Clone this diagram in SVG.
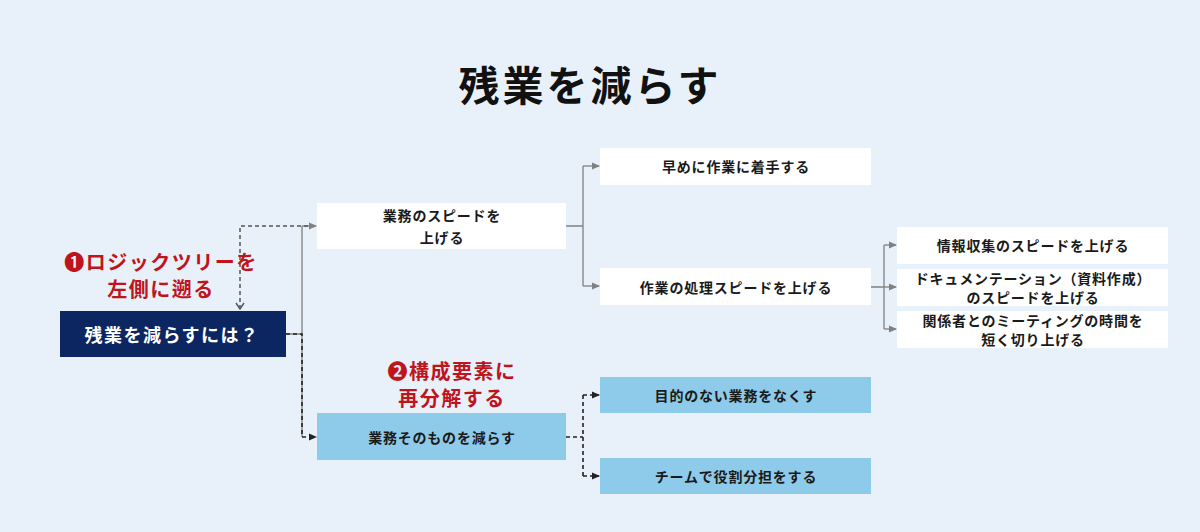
<svg xmlns="http://www.w3.org/2000/svg" width="1200" height="532" viewBox="0 0 1200 532">
<defs>
<marker id="ag" markerWidth="8" markerHeight="8" refX="7" refY="4" orient="auto" markerUnits="userSpaceOnUse"><path d="M0,0.5 L8,4 L0,7.5 Z" fill="#808080"/></marker>
<marker id="ak" markerWidth="8" markerHeight="8" refX="7" refY="4" orient="auto" markerUnits="userSpaceOnUse"><path d="M0,0.5 L8,4 L0,7.5 Z" fill="#222"/></marker>
<marker id="ad" markerWidth="10" markerHeight="10" refX="5" refY="8" orient="0" markerUnits="userSpaceOnUse"><path d="M1,2 L5,8 L9,2" fill="none" stroke="#555" stroke-width="1.5"/></marker>
</defs>
<style>
text{font-family:"Noto Sans CJK JP","Noto Sans",sans-serif;font-weight:700;text-anchor:middle;dominant-baseline:central}
.t{font-size:14px;fill:#1a1a1a;letter-spacing:0.8px}
.w{fill:#ffffff}
.b{fill:#8ecbea}
.g{fill:none;stroke:#808080;stroke-width:1.3}
.d{fill:none;stroke:#222;stroke-width:1.6;stroke-dasharray:4 3}
.dg{fill:none;stroke:#555;stroke-width:1.5;stroke-dasharray:4 3}
.red{font-size:20px;fill:#c0141c;letter-spacing:1.5px}
</style>
<rect width="1200" height="532" fill="#e8f0fa"/>
<text x="590" y="83" style="font-size:41px;fill:#111;letter-spacing:3px">残業を減らす</text>

<g id="connectors">
<path class="g" d="M286,334 H302 M302,226 V437"/>
<path class="g" d="M302,226 H316" marker-end="url(#ag)"/>
<path class="g" d="M566,226 H583 M583,166 V286"/>
<path class="g" d="M583,166 H599" marker-end="url(#ag)"/>
<path class="g" d="M583,286 H599" marker-end="url(#ag)"/>
<path class="g" d="M871,287 H884 M884,245 V329"/>
<path class="g" d="M884,245 H896" marker-end="url(#ag)"/>
<path class="g" d="M884,287 H896" marker-end="url(#ag)"/>
<path class="g" d="M884,329 H896" marker-end="url(#ag)"/>
<path class="d" d="M286,334 H302 V437 H316" marker-end="url(#ak)"/>
<path class="dg" d="M308,226 H240 V309" marker-end="url(#ad)"/>
<path class="d" d="M566,437 H583 M583,395 V476"/>
<path class="d" d="M583,395 H599" marker-end="url(#ak)"/>
<path class="d" d="M583,476 H599" marker-end="url(#ak)"/>
</g>

<g id="annotation1">
<text class="red" x="161" y="261">❶ロジックツリーを</text>
<text class="red" x="161" y="288">左側に遡る</text>
</g>
<g id="annotation2">
<text class="red" x="452" y="370">❷構成要素に</text>
<text class="red" x="452" y="397">再分解する</text>
</g>

<g id="root">
<rect x="60" y="311" width="226" height="46" fill="#0b2660"/>
<text x="172" y="334" style="font-size:18px;fill:#fff;letter-spacing:1.5px">残業を減らすには？</text>
</g>
<g id="n1">
<rect class="w" x="317" y="203" width="249" height="46"/>
<text class="t" x="442" y="215">業務のスピードを</text>
<text class="t" x="442" y="237">上げる</text>
</g>
<g id="n2">
<rect class="b" x="317" y="413" width="249" height="47"/>
<text class="t" x="442" y="437">業務そのものを減らす</text>
</g>
<g id="n11">
<rect class="w" x="600" y="148" width="271" height="37"/>
<text class="t" x="736" y="166">早めに作業に着手する</text>
</g>
<g id="n12">
<rect class="w" x="600" y="268" width="271" height="37"/>
<text class="t" x="736" y="287">作業の処理スピードを上げる</text>
</g>
<g id="n21">
<rect class="b" x="600" y="377" width="271" height="36"/>
<text class="t" x="736" y="395">目的のない業務をなくす</text>
</g>
<g id="n22">
<rect class="b" x="600" y="458" width="271" height="36"/>
<text class="t" x="736" y="476">チームで役割分担をする</text>
</g>
<g id="n121">
<rect class="w" x="897" y="227" width="271" height="37"/>
<text class="t" x="1033" y="245">情報収集のスピードを上げる</text>
</g>
<g id="n122">
<rect class="w" x="897" y="269" width="271" height="37"/>
<text class="t" x="1033" y="278">ドキュメンテーション（資料作成）</text>
<text class="t" x="1033" y="297">のスピードを上げる</text>
</g>
<g id="n123">
<rect class="w" x="897" y="311" width="271" height="37"/>
<text class="t" x="1033" y="320">関係者とのミーティングの時間を</text>
<text class="t" x="1033" y="339">短く切り上げる</text>
</g>
</svg>
